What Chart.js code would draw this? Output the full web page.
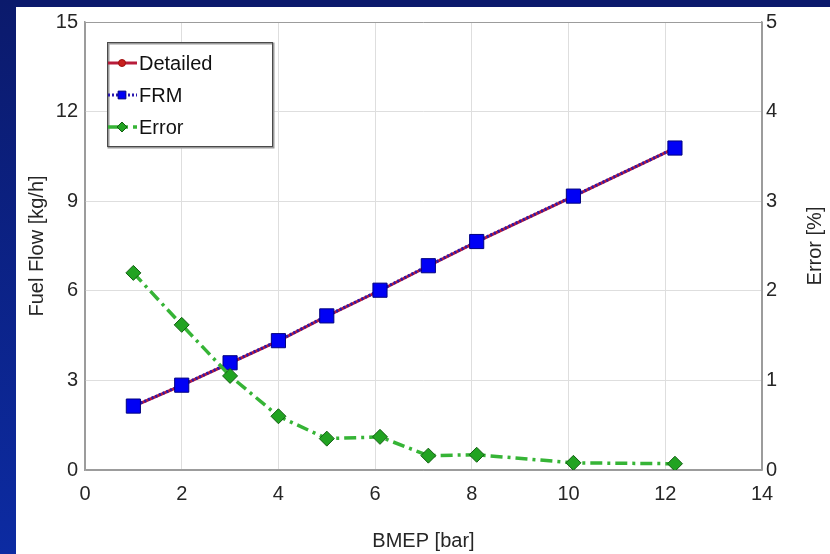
<!DOCTYPE html>
<html>
<head>
<meta charset="utf-8">
<title>Fuel flow vs BMEP</title>
<script src="https://cdn.jsdelivr.net/npm/chart.js@4.4.1/dist/chart.umd.min.js"></script>
<style>
    html, body { margin: 0; padding: 0; background: #fff; }
    #wrap { position: relative; width: 830px; height: 554px; overflow: hidden; background: #fff; }
    .band-top { position: absolute; left: 0; top: 0; width: 830px; height: 7px; background: #0b1a6c; }
    .band-left { position: absolute; left: 0; top: 0; width: 16px; height: 554px; background: linear-gradient(#0b1a6c, #0c2ba2); }
    #chart { position: absolute; left: 0; top: 0; }
</style>
</head>
<body>
<div id="wrap">
    <div class="band-top"></div>
    <div class="band-left"></div>
    <canvas id="chart" width="830" height="554"></canvas>
</div>
<script>
// ---------------------------------------------------------------------------
// Data
// ---------------------------------------------------------------------------
const bmep      = [1.0, 2.0, 3.0, 4.0, 5.0, 6.1, 7.1, 8.1, 10.1, 12.2];
const detailed  = [2.13, 2.83, 3.58, 4.32, 5.15, 6.01, 6.83, 7.64, 9.16, 10.78];
const frm       = [2.14, 2.84, 3.59, 4.33, 5.16, 6.02, 6.84, 7.65, 9.17, 10.78];
const errorPct  = [2.20, 1.62, 1.05, 0.60, 0.35, 0.37, 0.16, 0.17, 0.08, 0.07];

const xTicks  = [0, 2, 4, 6, 8, 10, 12, 14];
const yTicks  = [0, 3, 6, 9, 12, 15];
const y1Ticks = [0, 1, 2, 3, 4, 5];

const rightTitle = 'Error [%]';

const pts = (xs, ys) => xs.map((x, i) => ({ x, y: ys[i] }));

const font = { family: "'Liberation Sans', Arial, sans-serif", size: 20 };
const ink = '#262626';
const gridColor = '#dedede';
const frameColor = '#9c9c9c';

// Grid lines that sit on the plot edge are drawn as part of the frame
function edgeGrid(min, max) {
    return ctx => (ctx.tick && (ctx.tick.value === min || ctx.tick.value === max)) ? frameColor : gridColor;
}

function fixedTicks(values) {
    return scale => { scale.ticks = values.map(v => ({ value: v })); };
}

// Right axis title reads bottom-to-top like the left one (MATLAB style)
const rightAxisTitle = {
    id: 'rightAxisTitle',
    afterDraw(chart) {
        const { ctx, chartArea } = chart;
        const s = chart.scales.y1;
        ctx.save();
        ctx.translate(s.right - 15, (chartArea.top + chartArea.bottom) / 2);
        ctx.rotate(-Math.PI / 2);
        ctx.fillStyle = ink;
        ctx.font = `${font.size}px ${font.family}`;
        ctx.textAlign = 'center';
        ctx.textBaseline = 'middle';
        ctx.fillText(rightTitle, 0, 0);
        ctx.restore();
    }
};

// Boxed legend inside the plot, MATLAB style
const legendBox = {
    id: 'legendBox',
    afterDatasetsDraw(chart) {
        const { ctx, chartArea } = chart;
        const x0 = chartArea.left + 22, y0 = chartArea.top + 20, w = 165, h = 104;
        const markerSize = [3.5, 5.5, 5];
        ctx.save();
        ctx.fillStyle = '#fff';
        ctx.fillRect(x0, y0, w, h);
        ctx.strokeStyle = '#9a9a9a';
        ctx.lineWidth = 2;
        ctx.strokeRect(x0 + 1.5, y0 + 1.5, w, h);
        ctx.strokeStyle = '#4a4a4a';
        ctx.lineWidth = 1;
        ctx.strokeRect(x0 + 0.5, y0 + 0.5, w, h);

        chart.data.datasets.forEach((ds, i) => {
            const cy = y0 + 21 + i * 32;
            ctx.strokeStyle = ds.borderColor;
            ctx.lineWidth = ds.borderWidth;
            ctx.setLineDash(ds.borderDash || []);
            ctx.beginPath();
            ctx.moveTo(x0 + 1, cy);
            ctx.lineTo(x0 + 30, cy);
            ctx.stroke();
            ctx.setLineDash([]);

            ctx.fillStyle = ds.pointBackgroundColor;
            ctx.strokeStyle = ds.pointBorderColor;
            ctx.lineWidth = 1;
            Chart.helpers.drawPoint(ctx, {
                pointStyle: ds.pointStyle, rotation: 0, radius: markerSize[i], borderWidth: 1
            }, x0 + 15, cy);

            ctx.fillStyle = '#111';
            ctx.font = `${font.size}px ${font.family}`;
            ctx.textAlign = 'left';
            ctx.textBaseline = 'middle';
            ctx.fillText(ds.label, x0 + 32, cy + 1);
        });
        ctx.restore();
    }
};

new Chart(document.getElementById('chart'), {
    type: 'line',
    data: {
        datasets: [{
            label: 'Detailed',
            data: pts(bmep, detailed),
            borderColor: '#b81c3a',
            borderWidth: 3,
            pointStyle: 'circle',
            pointRadius: 3,
            pointBackgroundColor: '#c8201e',
            pointBorderColor: '#a01010',
            yAxisID: 'y',
            order: 3,
        }, {
            label: 'FRM',
            data: pts(bmep, frm),
            borderColor: '#2a18b0',
            borderWidth: 3,
            borderDash: [2, 2],
            pointStyle: 'rect',
            pointRadius: 10,
            pointBackgroundColor: '#0000f5',
            pointBorderColor: '#000080',
            pointBorderWidth: 1,
            yAxisID: 'y',
            order: 2,
        }, {
            label: 'Error',
            data: pts(bmep, errorPct),
            borderColor: '#36b436',
            borderWidth: 3.5,
            borderDash: [12, 5, 3, 5],
            pointStyle: 'rectRot',
            pointRadius: 7.5,
            pointBackgroundColor: '#22a322',
            pointBorderColor: '#125e12',
            pointBorderWidth: 1,
            yAxisID: 'y1',
            order: 1,
        }]
    },
    options: {
        responsive: false,
        animation: false,
        layout: { padding: { top: 22, left: 0, right: 0, bottom: 0 } },
        plugins: {
            legend: { display: false },
            tooltip: { enabled: false },
        },
        scales: {
            x: {
                type: 'linear', min: 0, max: 14,
                afterBuildTicks: fixedTicks(xTicks),
                ticks: { color: ink, font, padding: 12 },
                grid: { color: edgeGrid(0, 14), drawTicks: false },
                border: { color: frameColor, width: 1.5 },
                title: { display: true, text: 'BMEP [bar]', color: ink, font, padding: { top: 0, bottom: 1 } },
                afterFit: s => { s.height = 84; },
            },
            y: {
                position: 'left', min: 0, max: 15,
                afterBuildTicks: fixedTicks(yTicks),
                ticks: { color: ink, font, padding: 7 },
                grid: { color: edgeGrid(0, 15), drawTicks: false },
                border: { color: frameColor, width: 1.5 },
                title: { display: true, text: 'Fuel Flow [kg/h]', color: ink, font, padding: { top: 25, bottom: 0 } },
                afterFit: s => { s.width = 85; },
            },
            y1: {
                position: 'right', min: 0, max: 5,
                afterBuildTicks: fixedTicks(y1Ticks),
                ticks: { color: ink, font, padding: 4 },
                grid: { display: false, drawTicks: false },
                border: { color: frameColor, width: 1.5 },
                afterFit: s => { s.width = 68; },
            }
        }
    },
    plugins: [legendBox, rightAxisTitle]
});
</script>
</body>
</html>
